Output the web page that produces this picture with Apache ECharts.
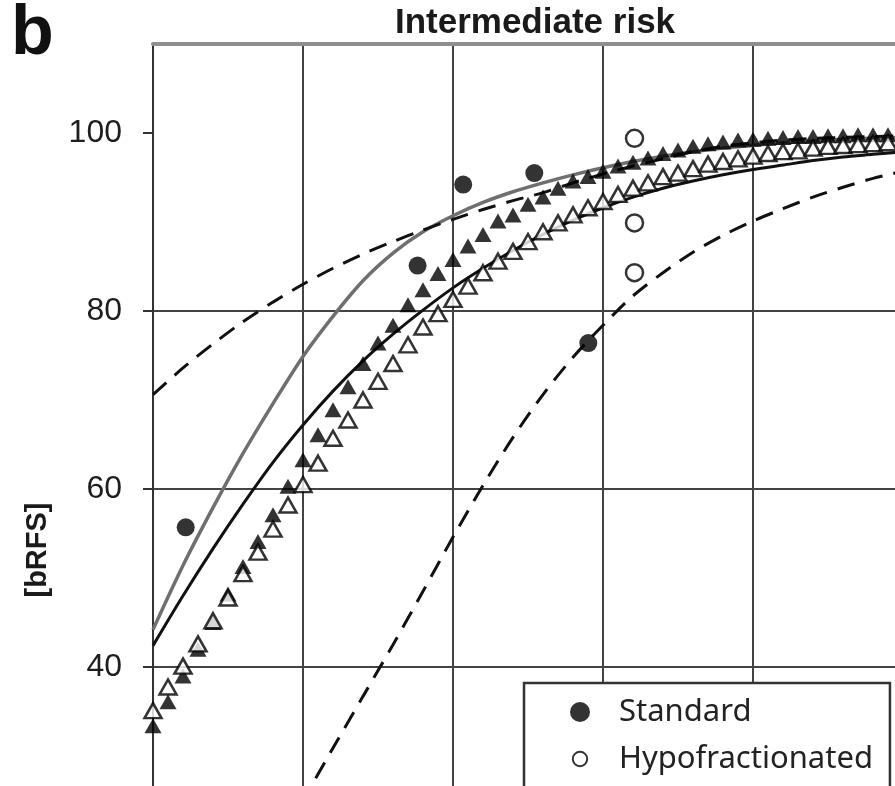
<!DOCTYPE html>
<html>
<head>
<meta charset="utf-8">
<script src="https://cdn.jsdelivr.net/npm/echarts@6.0.0/dist/echarts.min.js"></script>
<style>
  html, body { margin: 0; padding: 0; background: #fff; }
  #chart { width: 895px; height: 786px; }
</style>
</head>
<body>
<div id="chart"></div>
<script>
// ---- data ----
const panelLetter = 'b';
const chartTitle = 'Intermediate risk';
const yAxisTitle = '[bRFS]';
const yTickLabels = [40, 60, 80, 100];

// observed points
const standardX = [61.09, 68.82, 70.34, 72.71, 74.51];
const standardY = [55.7, 85.1, 94.2, 95.5, 76.4];
const hypoX = [76.05, 76.05, 76.05];
const hypoY = [99.4, 89.9, 84.3];

// model points (triangles)
const modelX = [60,60.5,61,61.5,62,62.5,63,63.5,64,64.5,65,65.5,66,66.5,67,67.5,68,68.5,69,69.5,
                70,70.5,71,71.5,72,72.5,73,73.5,74,74.5,75,75.5,76,76.5,77,77.5,78,78.5,79,79.5,
                80,80.5,81,81.5,82,82.5,83,83.5,84,84.5];
const standardModelY = [33.4,36.1,39.0,42.0,45.0,48.2,51.3,54.1,57.1,60.3,63.3,66.1,68.9,71.5,74.1,76.4,78.4,80.7,82.4,84.2,
                        85.8,87.3,88.6,90.1,90.8,92.0,92.8,93.8,94.6,95.1,95.7,96.3,96.7,97.2,97.7,98.1,98.5,98.8,99.0,99.2,
                        99.3,99.4,99.5,99.6,99.6,99.7,99.7,99.8,99.8,99.8];
const hypoModelY = [35.1,37.75,40.1,42.6,45.2,47.75,50.5,52.9,55.5,58.2,60.5,62.9,65.7,67.75,70.0,72.1,74.1,76.2,78.2,79.7,
                    81.3,82.8,84.3,85.6,86.7,87.8,88.9,89.9,90.8,91.6,92.3,93.1,93.8,94.4,95.1,95.5,96.0,96.5,96.8,97.1,
                    97.4,97.7,97.9,98.0,98.3,98.5,98.6,98.7,98.8,98.9];

// fitted curves (read at whole x steps)
const curveX = [60,61,62,63,64,65,66,67,68,69,70,71,72,73,74,75,76,77,78,79,80,81,82,83,84,85];
const grayY  = [44.2,51.4,57.9,64.0,69.6,74.9,79.4,83.4,86.5,88.9,90.7,92.2,93.4,94.4,95.3,96.1,96.8,97.4,97.9,98.3,98.6,98.9,99.1,99.3,99.4,99.5];
const blackY = [42.4,48.0,53.3,58.3,63.0,67.2,71.0,74.4,77.4,80.1,82.6,84.8,86.8,88.6,90.2,91.6,92.8,93.8,94.6,95.3,95.9,96.4,96.9,97.3,97.6,97.9];
const upperY = [70.6,73.6,76.3,78.8,81.0,83.0,84.8,86.4,87.8,89.1,90.3,91.4,92.4,93.3,94.4,95.4,96.3,97.1,97.9,98.5,98.9,99.2,99.4,99.5,99.6,99.7];
const lowerX = [64,65,66,67,68,69,70,71,72,73,74,75,76,77,78,79,80,81,82,83,84,85];
const lowerY = [19.0,25.0,30.9,36.7,42.5,48.5,54.6,60.4,65.8,70.6,74.8,78.4,81.7,84.3,86.6,88.5,90.1,91.5,92.8,93.9,94.9,95.7];

const zip = (xs, ys) => xs.map((x, i) => [x, ys[i]]);

const chart = echarts.init(document.getElementById('chart'), null, { renderer: 'canvas' });
const gridColor = '#444';
const SM = 0.3;
const smallCircleIcon = 'path://M0,0M20,20M17.2,10A7.2,7.2 0 1,0 2.8,10A7.2,7.2 0 1,0 17.2,10Z';

const option = {
  backgroundColor: '#ffffff',
  animation: false,
  grid: { left: 153, top: 44, right: -8, bottom: -59, containLabel: false, outerBoundsMode: 'none' },
  xAxis: [
    {
      type: 'value', min: 60, max: 85, interval: 5,
      axisLine: { show: false }, axisTick: { show: false }, axisLabel: { show: false },
      splitLine: { show: true, lineStyle: { color: gridColor, width: 2 } }
    },
    {
      type: 'value', position: 'top', min: 60, max: 85, interval: 5,
      axisLine: { show: true, lineStyle: { color: '#8e8e8e', width: 4 } },
      axisTick: { show: false }, axisLabel: { show: false }, splitLine: { show: false }
    }
  ],
  yAxis: {
    type: 'value', min: 20, max: 110, interval: 20,
    axisLine: { show: true, lineStyle: { color: '#333', width: 2 } },
    axisTick: { show: true, inside: false, length: 10, lineStyle: { color: '#333', width: 2 }, customValues: [20, 40, 60, 80, 100] },
    axisLabel: {
      customValues: yTickLabels,
      formatter: v => (yTickLabels.indexOf(v) >= 0 ? String(v) : ''),
      fontFamily: 'Liberation Sans', fontSize: 32, color: '#1e1e1e', margin: 31
    },
    splitLine: { show: true, showMaxLine: false, lineStyle: { color: gridColor, width: 2 } }
  },
  legend: {
    data: [{ name: 'Standard', icon: 'circle' }, { name: 'Hypofractionated', icon: smallCircleIcon }],
    orient: 'vertical', left: 524, top: 683, height: 130,
    padding: [13, 17, 40, 45],
    itemWidth: 68, itemHeight: 20, itemGap: 15,
    backgroundColor: '#fff', borderColor: '#333', borderWidth: 2.5, borderRadius: 0,
    textStyle: { fontFamily: 'Noto Sans', fontSize: 31, color: '#222', lineHeight: 32 },
    z: 10
  },
  graphic: [
    { type: 'text', left: 11, top: 0, z: 20,
      style: { text: panelLetter, font: 'bold 70px "Liberation Sans"', fill: '#111' } },
    { type: 'text', z: 20, x: 535, y: 23,
      style: { text: chartTitle, font: 'bold 35px "Liberation Sans"', fill: '#1a1a1a', align: 'center', verticalAlign: 'middle' } },
    { type: 'text', z: 20, x: 38, y: 550, rotation: Math.PI / 2,
      style: { text: yAxisTitle, font: 'bold 29px "Liberation Sans"', fill: '#1a1a1a', align: 'center', verticalAlign: 'middle' } }
  ],
  series: [
    { name: 'Fit gray', type: 'line', data: zip(curveX, grayY), smooth: SM, showSymbol: false,
      lineStyle: { color: '#6f6f6f', width: 3.5 }, z: 2, silent: true },
    { name: 'Fit black', type: 'line', data: zip(curveX, blackY), smooth: SM, showSymbol: false,
      lineStyle: { color: '#111', width: 3 }, z: 2, silent: true },
    { name: 'Upper bound', type: 'line', data: zip(curveX, upperY), smooth: SM, showSymbol: false,
      lineStyle: { color: '#111', width: 3, type: [18, 11] }, z: 2, silent: true },
    { name: 'Lower bound', type: 'line', data: zip(lowerX, lowerY), smooth: SM, showSymbol: false,
      lineStyle: { color: '#111', width: 3, type: [18, 11] }, z: 2, silent: true },
    { name: 'Standard model', type: 'scatter', data: zip(modelX, standardModelY), symbol: 'triangle', symbolSize: [17, 15],
      itemStyle: { color: '#000' }, z: 3 },
    { name: 'Hypofractionated model', type: 'scatter', data: zip(modelX, hypoModelY), symbol: 'triangle', symbolSize: [17, 15],
      itemStyle: { color: '#fff', borderColor: '#000', borderWidth: 2.5 }, z: 4 },
    { name: 'Standard', type: 'scatter', data: zip(standardX, standardY), symbol: 'circle', symbolSize: 18,
      itemStyle: { color: '#000' }, z: 5 },
    { name: 'Hypofractionated', type: 'scatter', data: zip(hypoX, hypoY), symbol: 'circle', symbolSize: 17,
      itemStyle: { color: '#fff', borderColor: '#000', borderWidth: 2.5 }, z: 5 }
  ]
};
chart.setOption(option);
</script>
</body>
</html>
